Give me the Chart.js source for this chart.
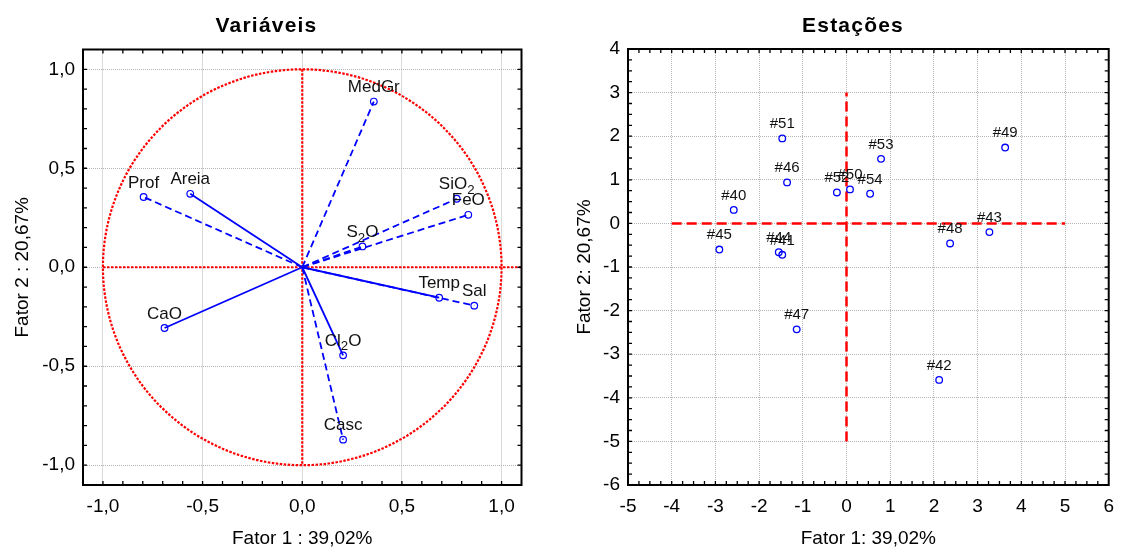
<!DOCTYPE html>
<html><head><meta charset="utf-8">
<script src="https://cdn.jsdelivr.net/npm/chart.js@4.4.0/dist/chart.umd.min.js"></script>
<style>
html,body{margin:0;padding:0;background:#fff;}
#wrap{position:relative;width:1124px;height:548px;overflow:hidden;}
canvas{position:absolute;top:0;}
#c1{left:0;} #c2{left:562px;}
</style></head><body>
<div id="wrap"><canvas id="c1" width="562" height="548"></canvas><canvas id="c2" width="562" height="548"></canvas></div>
<script>
// ---------- Left chart: variables (loadings) ----------
const VAR_NAMES  = ['MedGr','Prof','Areia','SiO₂','FeO','S₂O','Temp','Sal','CaO','Cl₂O','Casc'];
const VAR_F1     = [0.359,-0.796,-0.562,0.775,0.833,0.302,0.687,0.863,-0.691,0.205,0.205];
const VAR_F2     = [0.837,0.355,0.371,0.346,0.265,0.105,-0.154,-0.194,-0.307,-0.445,-0.871];
const VAR_DASHED = [true,true,false,true,true,true,false,true,false,false,true];
const LEFT_TICKS = [-1,-0.5,0,0.5,1];

// ---------- Right chart: stations (scores) ----------
const STATION_NAMES = ['#40','#41','#42','#43','#44','#45','#46','#47','#48','#49','#50','#51','#52','#53','#54'];
const STATION_F1    = [-2.58,-1.47,2.12,3.27,-1.55,-2.91,-1.36,-1.14,2.37,3.63,0.08,-1.47,-0.22,0.79,0.54];
const STATION_F2    = [0.31,-0.72,-3.59,-0.20,-0.66,-0.60,0.94,-2.43,-0.46,1.74,0.78,1.95,0.71,1.48,0.68];
const RIGHT_X_TICKS = [-5,-4,-3,-2,-1,0,1,2,3,4,5,6];
const RIGHT_Y_TICKS = [-6,-5,-4,-3,-2,-1,0,1,2,3,4];
const RED_H_X = [-4, 5];   // horizontal reference line (y = 0)
const RED_V_Y = [-5, 3];   // vertical reference line (x = 0)

const FONT = '"Liberation Sans", Arial, sans-serif';
const BLUE = '#0000ff', RED = '#ff0000', GRID = '#b4b4b4';
Chart.defaults.font.family = FONT;
Chart.defaults.color = '#000';

const SUB = '₀₁₂₃₄₅₆₇₈₉';
function drawRich(ctx, text, cx, cy, size) {
  const segs = [];
  for (const ch of text) {
    const si = SUB.indexOf(ch);
    const sub = si >= 0;
    const c = sub ? String(si) : ch;
    const last = segs[segs.length - 1];
    if (last && last.sub === sub) last.t += c; else segs.push({t: c, sub});
  }
  let total = 0;
  segs.forEach(s => { ctx.font = (s.sub ? size * 0.78 : size) + 'px ' + FONT; s.w = ctx.measureText(s.t).width; total += s.w; });
  let x = cx - total / 2;
  const base = cy + size * 0.36;
  ctx.textAlign = 'left'; ctx.textBaseline = 'alphabetic';
  segs.forEach(s => {
    ctx.font = (s.sub ? size * 0.78 : size) + 'px ' + FONT;
    ctx.fillText(s.t, x, s.sub ? base + size * 0.26 : base);
    x += s.w;
  });
}

const fmt1 = v => (Math.abs(v) < 1e-9 ? 0 : v).toFixed(1).replace('.', ',');
const steps = (min, max, st) => { const out = []; for (let k = Math.ceil(min / st - 1e-6); k * st <= max + 1e-6; k++) out.push(k * st); return out; };

const framePlugin = {
  id: 'frame',
  afterDraw(chart, args, o) {
    const {ctx, chartArea: a, scales: {x, y}} = chart;
    ctx.save();
    ctx.strokeStyle = '#000'; ctx.lineWidth = 1.3;
    ctx.beginPath();
    steps(x.min, x.max, o.minorX).forEach(v => {
      const p = x.getPixelForValue(v);
      if (p <= a.left + 1 || p >= a.right - 1) return;
      ctx.moveTo(p, a.bottom); ctx.lineTo(p, a.bottom - o.len);
      ctx.moveTo(p, a.top); ctx.lineTo(p, a.top + o.len);
    });
    steps(y.min, y.max, o.minorY).forEach(v => {
      const p = y.getPixelForValue(v);
      if (p <= a.top + 1 || p >= a.bottom - 1) return;
      ctx.moveTo(a.left, p); ctx.lineTo(a.left + o.len, p);
      ctx.moveTo(a.right, p); ctx.lineTo(a.right - o.len, p);
    });
    ctx.stroke();
    ctx.lineWidth = 2;
    ctx.strokeRect(a.left, a.top, a.right - a.left, a.bottom - a.top);
    ctx.restore();
  }
};

const headingPlugin = {
  id: 'heading',
  afterDraw(chart, args, o) {
    const ctx = chart.ctx;
    ctx.save();
    ctx.font = 'bold ' + o.size + 'px ' + FONT;
    ctx.fillStyle = '#000';
    ctx.letterSpacing = o.spacing + 'px';
    ctx.textAlign = 'center'; ctx.textBaseline = 'alphabetic';
    ctx.fillText(o.text, o.x, o.y + o.size * 0.36);
    ctx.restore();
  }
};

const labelsPlugin = {
  id: 'ptLabels',
  afterDatasetsDraw(chart, args, o) {
    const {ctx, scales: {x, y}} = chart;
    ctx.save();
    ctx.fillStyle = '#111';
    o.names.forEach((n, i) => {
      drawRich(ctx, n, x.getPixelForValue(o.xs[i]), y.getPixelForValue(o.ys[i]) - o.offset, o.size);
    });
    ctx.restore();
  }
};

const circlePlugin = {
  id: 'unitCircle',
  beforeDatasetsDraw(chart, args, o) {
    if (!o.enabled) return;
    const {ctx, scales: {x, y}} = chart;
    const cx = x.getPixelForValue(0), cy = y.getPixelForValue(0);
    const rx = x.getPixelForValue(1) - cx, ry = cy - y.getPixelForValue(1);
    ctx.save();
    ctx.strokeStyle = RED; ctx.lineWidth = 2.2; ctx.setLineDash([2.5, 1.5]);
    ctx.beginPath(); ctx.ellipse(cx, cy, rx, ry, 0, 0, Math.PI * 2); ctx.stroke();
    ctx.beginPath();
    ctx.moveTo(x.getPixelForValue(-1), cy); ctx.lineTo(x.getPixelForValue(x.max), cy);
    ctx.moveTo(cx, y.getPixelForValue(1)); ctx.lineTo(cx, y.getPixelForValue(-1));
    ctx.stroke();
    ctx.restore();
  }
};

function axis(min, max, tickVals, fmt, title, isX, fitSize) {
  return {
    type: 'linear', position: isX ? 'bottom' : 'left', min, max,
    afterBuildTicks: s => { s.ticks = tickVals.map(v => ({value: v})); },
    afterFit: s => { if (isX) s.height = fitSize; else s.width = fitSize; },
    ticks: {callback: v => fmt(v), font: {size: 19}, padding: isX ? 10 : 8, maxRotation: 0, autoSkip: false, color: '#000'},
    grid: {color: GRID, drawTicks: false, lineWidth: 1},
    border: {display: false, dash: [1, 1]},
    title: {display: true, text: title, font: {size: 19, lineHeight: 1}, color: '#000', padding: isX ? {top: 0, bottom: 0} : {top: 13, bottom: 0}}
  };
}

// Left chart
new Chart(document.getElementById('c1'), {
  type: 'scatter',
  data: {
    datasets: VAR_NAMES.map((n, i) => ({
      label: n,
      data: [{x: 0, y: 0}, {x: VAR_F1[i], y: VAR_F2[i]}],
      showLine: true,
      borderColor: BLUE, borderWidth: 1.8,
      borderDash: VAR_DASHED[i] ? [7, 4] : [],
      pointRadius: [0, 3.3], pointHoverRadius: [0, 3.3],
      pointBorderColor: BLUE, pointBackgroundColor: 'rgba(0,0,0,0)', pointBorderWidth: 1.2
    }))
  },
  options: {
    responsive: false, animation: false, events: [],
    layout: {padding: {left: 0, right: 40.5, top: 49.5, bottom: 0}},
    plugins: {
      legend: {display: false}, tooltip: {enabled: false},
      heading: {text: 'Variáveis', x: 266.5, y: 24.3, size: 21, spacing: 1.2},
      frame: {minorX: 0.1, minorY: 0.1, len: 4},
      ptLabels: {names: VAR_NAMES, xs: VAR_F1, ys: VAR_F2, size: 17, offset: 15.5},
      unitCircle: {enabled: true}
    },
    scales: {
      x: axis(-1.1, 1.1, LEFT_TICKS, fmt1, 'Fator 1 : 39,02%', true, 63),
      y: axis(-1.1, 1.1, LEFT_TICKS, fmt1, 'Fator 2 : 20,67%', false, 83)
    }
  },
  plugins: [circlePlugin, labelsPlugin, framePlugin, headingPlugin]
});

// Right chart
new Chart(document.getElementById('c2'), {
  type: 'scatter',
  data: {
    datasets: [
      {
        label: 'Estações',
        data: STATION_NAMES.map((n, i) => ({x: STATION_F1[i], y: STATION_F2[i]})),
        pointRadius: 3.3, pointHoverRadius: 3.3,
        pointBorderColor: BLUE, pointBackgroundColor: 'rgba(0,0,0,0)', pointBorderWidth: 1.3
      },
      {
        label: 'h',
        data: RED_H_X.map(v => ({x: v, y: 0})),
        showLine: true, borderColor: RED, borderWidth: 2.5, borderDash: [10, 5], pointRadius: 0
      },
      {
        label: 'v',
        data: RED_V_Y.map(v => ({x: 0, y: v})),
        showLine: true, borderColor: RED, borderWidth: 2.5, borderDash: [10, 5], pointRadius: 0
      }
    ]
  },
  options: {
    responsive: false, animation: false, events: [],
    layout: {padding: {left: 0, right: 7, top: 49, bottom: 0}},
    plugins: {
      legend: {display: false}, tooltip: {enabled: false},
      heading: {text: 'Estações', x: 291, y: 24, size: 21, spacing: 1.2},
      frame: {minorX: 0.25, minorY: 0.25, len: 4},
      ptLabels: {names: STATION_NAMES, xs: STATION_F1, ys: STATION_F2, size: 15, offset: 15.5},
      unitCircle: {enabled: false}
    },
    scales: {
      x: axis(-5, 6, RIGHT_X_TICKS, v => String(v), 'Fator 1: 39,02%', true, 63),
      y: axis(-6, 4, RIGHT_Y_TICKS, v => String(v), 'Fator 2: 20,67%', false, 66)
    }
  },
  plugins: [circlePlugin, labelsPlugin, framePlugin, headingPlugin]
});
</script>
</body></html>
